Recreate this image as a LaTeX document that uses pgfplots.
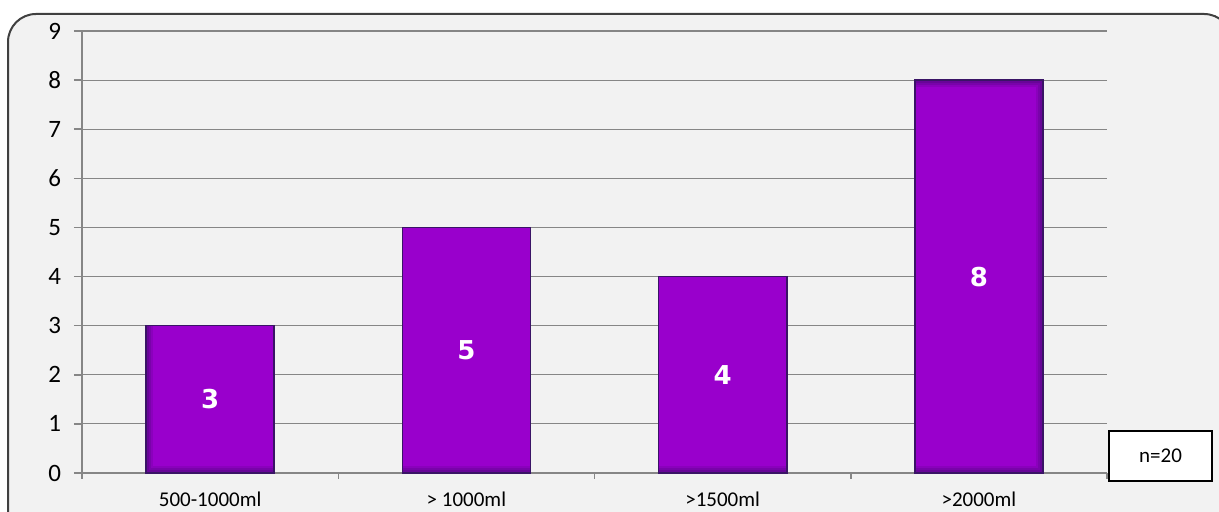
\documentclass[border=0pt]{standalone}
\usepackage{pgfplots}
\pgfplotsset{compat=1.18}
\usepackage{fontspec}
\setmainfont{Carlito}
\newfontfamily\valfont{DejaVu Sans}
\definecolor{bg}{HTML}{F2F2F2}
\definecolor{framec}{HTML}{404040}
\definecolor{gridc}{HTML}{868686}
\definecolor{barc}{HTML}{9900CC}
\definecolor{bardark}{HTML}{3A1466}
\definecolor{glow}{HTML}{4A0A78}
\tikzset{innerglow/.style={path picture={
    \draw[path picture={}, fill=none, draw=glow, draw opacity=0.18, line width=7pt] (path picture bounding box.south west) rectangle (path picture bounding box.north east);
    \draw[path picture={}, fill=none, draw=glow, draw opacity=0.25, line width=4.5pt] (path picture bounding box.south west) rectangle (path picture bounding box.north east);
    \draw[path picture={}, fill=none, draw=glow, draw opacity=0.35, line width=2.5pt] (path picture bounding box.south west) rectangle (path picture bounding box.north east);
  }}}
\begin{document}
\begin{tikzpicture}
\useasboundingbox (0pt,0pt) rectangle (609.5pt,256pt);
\begin{scope}
\clip (0pt,0pt) rectangle (609.5pt,256pt);
\draw[framec, line width=1pt, fill=bg, rounded corners=14pt] (4pt,-20pt) rectangle (616pt,249pt);
\end{scope}
\begin{axis}[at={(41pt,19.5pt)}, anchor=south west, scale only axis,
  width=512.5pt, height=221pt,
  xmin=-0.5, xmax=3.5, ymin=0, ymax=9,
  axis lines=left,
  axis line style={-, gridc, line width=0.75pt},
  ytick={0,1,...,9},
  ymajorgrids,
  grid style={gridc, line width=0.6pt},
  xtick={0,1,2,3},
  xticklabels={500-1000ml, > 1000ml, >1500ml, >2000ml},
  major x tick style={draw=none},
  minor xtick={-0.5,0.5,1.5,2.5,3.5},
  tick align=outside,
  major tick length=4pt, minor tick length=3pt,
  tick style={gridc, line width=0.75pt},
  xticklabel style={font=\fontsize{10.5}{12}\selectfont, text=black, yshift=-2pt},
  yticklabel style={font=\fontsize{12.5}{14}\selectfont, text=black, xshift=-3pt},
  /pgf/number format/assume math mode=true,
  clip=false,
]
\addplot[ybar, bar width=0.5, fill=barc, draw=bardark, line width=0.8pt, innerglow]
  coordinates {(0,3) (1,5) (2,4) (3,8)};
\addplot[only marks, mark=none, nodes near coords, point meta=explicit symbolic,
  nodes near coords style={anchor=center, text=white, font=\valfont\bfseries\fontsize{13}{15}\selectfont}]
  coordinates {(0,1.5)[3] (1,2.5)[5] (2,2)[4] (3,4)[8]};
\end{axis}
\draw[fill=white, draw=black, line width=0.6pt] (554.5pt,15.5pt) rectangle (606pt,40.5pt);
\node[font=\fontsize{10.5}{12}\selectfont] at (580.25pt,28pt) {n=20};
\end{tikzpicture}
\end{document}
